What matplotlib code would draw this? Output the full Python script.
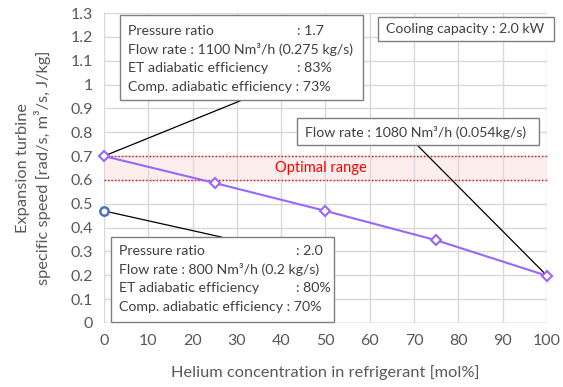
import matplotlib
matplotlib.use("Agg")
import matplotlib.pyplot as plt
from matplotlib.patches import Rectangle

plt.rcParams['font.family'] = ['Lato', 'DejaVu Sans']

helium = [0, 25, 50, 75, 100]
speed = [0.70, 0.587, 0.47, 0.347, 0.198]
ref_x = [0]
ref_y = [0.47]
opt_low, opt_high = 0.6, 0.7
xticks = list(range(0, 101, 10))
yticks = [0, 0.1, 0.2, 0.3, 0.4, 0.5, 0.6, 0.7, 0.8, 0.9, 1, 1.1, 1.2, 1.3]
ytick_labels = ['0', '0.1', '0.2', '0.3', '0.4', '0.5', '0.6', '0.7', '0.8', '0.9', '1', '1.1', '1.2', '1.3']

gray = '#595959'
fig = plt.figure(figsize=(5.63, 3.87), dpi=100)
ax = fig.add_axes([0.1847, 0.1654, 0.7869, 0.8010])
ax.set_xlim(0, 100)
ax.set_ylim(0, 1.3)
ax.set_xticks(xticks)
ax.set_yticks(yticks)
ax.set_yticklabels(ytick_labels)
ax.grid(True, color='#d9d9d9', lw=1)
ax.set_axisbelow(True)
for s in ax.spines.values():
    s.set_visible(False)
ax.axhline(0, color='#bfbfbf', lw=1, zorder=1)
ax.tick_params(length=0, labelsize=11.5, colors=gray, pad=8)
ax.set_xlabel('Helium concentration in refrigerant [mol%]', fontsize=11.8, color=gray, labelpad=12)
ax.set_ylabel('Expansion turbine\nspecific speed [rad/s, m³/s, J/kg]', fontsize=11.8, color=gray, labelpad=14, linespacing=1.3)

# optimal range
ax.axhspan(opt_low, opt_high, color='#fdeeee', zorder=0.5)
ax.axhline(opt_low, color='#ff0000', ls=(0, (1, 1.5)), lw=1, zorder=2)
ax.axhline(opt_high, color='#ff0000', ls=(0, (1, 1.5)), lw=1, zorder=2)
ax.text(49, 0.65, 'Optimal range', color='#ff0000', fontsize=10.5, ha='center', va='center')

# leader lines
ax.plot([0, 31.2], [speed[0], 0.935], color='black', lw=0.9, zorder=3)
ax.plot([0, 26.6], [ref_y[0], 0.36], color='black', lw=0.9, zorder=3)
ax.plot([70.7, 100], [0.746, speed[-1]], color='black', lw=0.9, zorder=3)

# data
ax.plot(helium, speed, color='#9966ff', lw=1.5, marker='D', ms=5.5, mfc='white', mec='#9966ff', mew=1.5, zorder=5, clip_on=False)
ax.plot(ref_x, ref_y, ls='none', marker='o', ms=6, mfc='white', mec='#4472c4', mew=1.8, zorder=5, clip_on=False)

def box(x0, y0, x1, y1):
    r = Rectangle((x0, y0), x1 - x0, y1 - y0, facecolor='white', edgecolor='#7f7f7f', lw=1, zorder=6, clip_on=False)
    ax.add_patch(r)

fs = 10.2
tc = '#404040'
# box 1
box(3.6, 0.935, 58.5, 1.291)
lines1 = [('Pressure ratio', ': 1.7'),
          ('Flow rate : 1100 Nm³/h (0.275 kg/s)', None),
          ('ET adiabatic efficiency', ': 83%'),
          ('Comp. adiabatic efficiency : 73%', None)]
ys1 = [1.225, 1.149, 1.069, 0.990]
for (a, b), y in zip(lines1, ys1):
    ax.text(5.4, y, a, fontsize=fs, color=tc, va='center', zorder=7)
    if b:
        ax.text(43.6, y, b, fontsize=fs, color=tc, va='center', zorder=7)

# box 2
box(61.9, 1.182, 101.6, 1.283)
ax.text(63.7, 1.233, 'Cooling capacity : 2.0 kW', fontsize=fs, color=tc, va='center', zorder=7)

# box 3
box(43.6, 0.746, 98.2, 0.86)
ax.text(45.4, 0.80, 'Flow rate : 1080 Nm³/h (0.054kg/s)', fontsize=fs, color=tc, va='center', zorder=7)

# box 4
box(1.6, 0.004, 51.9, 0.36)
lines4 = [('Pressure ratio', ': 2.0'),
          ('Flow rate : 800 Nm³/h (0.2 kg/s)', None),
          ('ET adiabatic efficiency', ': 80%'),
          ('Comp. adiabatic efficiency : 70%', None)]
ys4 = [0.302, 0.226, 0.147, 0.067]
for (a, b), y in zip(lines4, ys4):
    ax.text(3.4, y, a, fontsize=fs, color=tc, va='center', zorder=7)
    if b:
        ax.text(43.3, y, b, fontsize=fs, color=tc, va='center', zorder=7)

fig.savefig('out.png', dpi=100)
